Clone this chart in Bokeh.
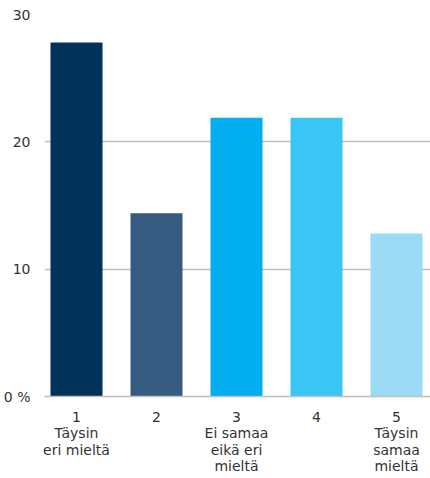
from bokeh.plotting import figure
from bokeh.models import Range1d, FixedTicker
from bokeh.embed import file_html
from bokeh.resources import INLINE

categories = [1, 2, 3, 4, 5]
cat_labels = ["1\nTäysin\neri mieltä", "2", "3\nEi samaa\neikä eri\nmieltä", "4", "5\nTäysin\nsamaa\nmieltä"]
values = [27.8, 14.4, 21.9, 21.9, 12.8]
colors = ["#00325A", "#365A80", "#02AEF0", "#3AC6F4", "#9CDBF6"]
y_ticks = [0, 10, 20, 30]
y_tick_labels = ["0 %", "10", "20", "30"]

FONT = "DejaVu Sans"

p = figure(frame_width=386, frame_height=382, output_backend="svg", toolbar_location=None,
           x_range=Range1d(0.6, 5.425), y_range=Range1d(0, 30),
           min_border_left=0, min_border_right=0, min_border_top=14, min_border_bottom=0)
p.outline_line_color = None

p.vbar(x=categories, top=values, width=0.65, color=colors, line_color=None)

p.xaxis.ticker = FixedTicker(ticks=categories)
p.xaxis.major_label_overrides = {c: l for c, l in zip(categories, cat_labels)}
p.xaxis.axis_line_color = "#BFBFBF"
p.xaxis.axis_line_width = 1.5
p.xaxis.major_tick_line_color = None
p.xaxis.minor_tick_line_color = None
p.xaxis.major_label_text_font = FONT
p.xaxis.major_label_text_font_size = "14px"
p.xaxis.major_label_text_color = "#333333"
p.xaxis.major_label_standoff = 6
p.xaxis.major_label_text_line_height = 1.04

p.yaxis.ticker = FixedTicker(ticks=y_ticks)
p.yaxis.major_label_overrides = {t: l for t, l in zip(y_ticks, y_tick_labels)}
p.yaxis.axis_line_color = None
p.yaxis.major_tick_line_color = None
p.yaxis.minor_tick_line_color = None
p.yaxis.major_label_text_font = FONT
p.yaxis.major_label_text_font_size = "14px"
p.yaxis.major_label_text_color = "#333333"
p.yaxis.major_label_standoff = 8

p.xgrid.grid_line_color = None
p.ygrid.grid_line_color = "#BFBFBF"
p.ygrid.grid_line_width = 1.5
p.ygrid.ticker = FixedTicker(ticks=[10, 20, 30])

open("out.html", "w").write(file_html(p, INLINE))
